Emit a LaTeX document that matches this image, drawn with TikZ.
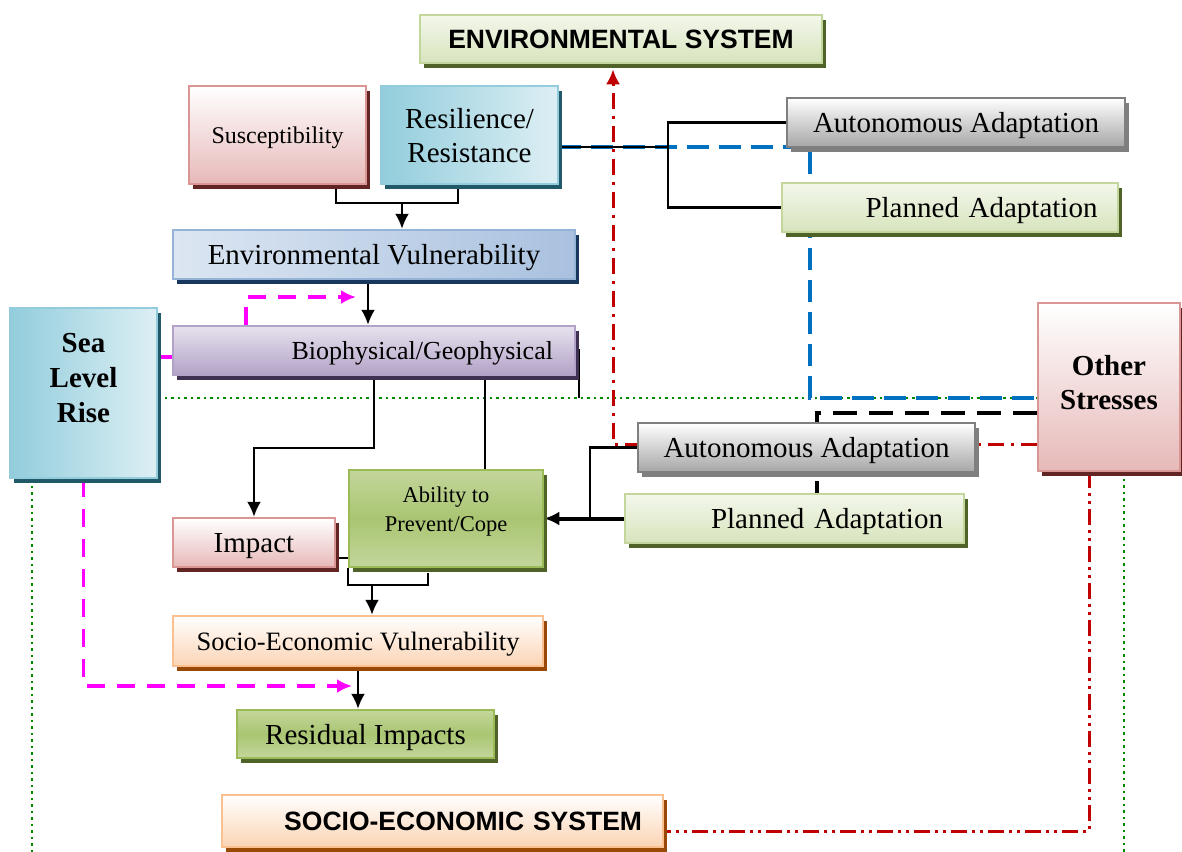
\documentclass[tikz,border=0pt]{standalone}
\usepackage{fontspec}
\setmainfont{Liberation Serif}
\setsansfont{Liberation Sans}
\usetikzlibrary{arrows.meta,shadows}

% box colours
\definecolor{grnline}{HTML}{C3D69B}
\definecolor{grnpale}{HTML}{F3F7EB}
\definecolor{grnlight}{HTML}{D7E4BD}
\definecolor{grnmid}{HTML}{9BBB59}
\definecolor{grnshadow}{HTML}{4F6228}
\definecolor{pinkline}{HTML}{D99694}
\definecolor{pinkfill}{HTML}{E6B9B8}
\definecolor{pinkshadow}{HTML}{632523}
\definecolor{tealline}{HTML}{93CDDD}
\definecolor{tealdark}{HTML}{92CDDC}
\definecolor{teallight}{HTML}{DDEFF4}
\definecolor{tealshadow}{HTML}{215968}
\definecolor{blueline}{HTML}{95B3D7}
\definecolor{bluelight}{HTML}{DCE6F2}
\definecolor{bluemid}{HTML}{A9C1DF}
\definecolor{blueshadow}{HTML}{17375E}
\definecolor{purpline}{HTML}{B3A2C7}
\definecolor{purplight}{HTML}{E7E2EE}
\definecolor{purpshadow}{HTML}{3F3151}
\definecolor{grayline}{HTML}{7F7F7F}
\definecolor{grayfill}{HTML}{A6A6A6}
\definecolor{orgline}{HTML}{FAC090}
\definecolor{orgfill}{HTML}{FBD4B4}
\definecolor{orgshadow}{HTML}{984807}
% line colours
\definecolor{resblue}{HTML}{0070C0}
\definecolor{fbred}{HTML}{C00000}
\definecolor{limgreen}{HTML}{008A00}
\definecolor{slrpink}{HTML}{FF00FF}

\pgfdeclarelayer{wires}
\pgfsetlayers{wires,main}

\tikzstyle{box}=[draw, line width=2.5pt, inner sep=0pt, align=center, text depth=0pt, font=\fontsize{29}{34}\selectfont]
\tikzstyle{box green}=[box, draw=grnline, top color=grnpale, bottom color=grnlight, general shadow={fill=grnshadow, shadow xshift=4pt, shadow yshift=-5pt}]
\tikzstyle{box leaf}=[box, draw=grnmid, top color=grnline, bottom color=grnline, middle color=grnmid!85, general shadow={fill=grnshadow, shadow xshift=4pt, shadow yshift=-5pt}]
\tikzstyle{box pink}=[box, draw=pinkline, top color=white, bottom color=pinkfill, general shadow={fill=pinkshadow, shadow xshift=4pt, shadow yshift=-5pt}]
\tikzstyle{box teal}=[box, draw=tealline, left color=tealdark, right color=teallight, general shadow={fill=tealshadow, shadow xshift=4pt, shadow yshift=-5pt}]
\tikzstyle{box blue}=[box, draw=blueline, left color=bluelight, right color=bluemid, general shadow={fill=blueshadow, shadow xshift=4pt, shadow yshift=-5pt}]
\tikzstyle{box purple}=[box, draw=purpline, top color=purplight, bottom color=purpline, general shadow={fill=purpshadow, shadow xshift=4pt, shadow yshift=-5pt}]
\tikzstyle{box gray}=[box, draw=grayline, top color=white, bottom color=grayfill, general shadow={fill=grayline, shadow xshift=4pt, shadow yshift=-5pt}]
\tikzstyle{box orange}=[box, draw=orgline, top color=white, bottom color=orgfill, general shadow={fill=orgshadow, shadow xshift=4pt, shadow yshift=-5pt}]
\tikzstyle{system}=[font=\sffamily\bfseries\fontsize{26.5}{30}\selectfont]
\tikzstyle{driver}=[font=\bfseries\fontsize{29}{35}\selectfont]

\tikzstyle{link}=[line width=2.2pt]
\tikzstyle{link thick}=[line width=4pt]
\tikzstyle{sea}=[slrpink, line width=3.5pt, dash pattern=on 18pt off 12pt]
\tikzstyle{resist}=[resblue, line width=3.5pt, dash pattern=on 22pt off 10pt]
\tikzstyle{stress}=[line width=4pt, dash pattern=on 24pt off 12pt]
\tikzstyle{limit}=[limgreen, line width=2.5pt, dash pattern=on 2.5pt off 4pt]
\tikzstyle{feedback}=[fbred, line width=3pt, dash pattern=on 16pt off 7pt on 3pt off 7pt]
\tikzstyle{feedback dots}=[fbred, line width=3pt, dash pattern=on 16pt off 5pt on 3pt off 5pt on 3pt off 5pt]

\begin{document}
\begin{tikzpicture}[x=1pt,y=-1pt,>={Latex[length=15pt,width=14pt]}]
    \useasboundingbox (0,0) rectangle (1182,851);

    % Systems
    \draw (621,39) node[box green, system, minimum width=402, minimum height=48] (envsys) {ENVIRONMENTAL SYSTEM};
    \draw (442.5,821) node[box orange, system, minimum width=441, minimum height=52, text width=399, align=right] (socsys) {SOCIO-ECONOMIC SYSTEM};

    % Environmental side
    \draw (277.5,135) node[box pink, minimum width=177, minimum height=98, font=\fontsize{24}{28}\selectfont] (suscept) {Susceptibility};
    \draw (469.5,135) node[box teal, minimum width=177, minimum height=98] (resil) {Resilience/\\Resistance};
    \draw (374,254.5) node[box blue, minimum width=402, minimum height=49] (envvul) {Environmental Vulnerability};
    \draw (374,350.5) node[box purple, minimum width=402, minimum height=49, text width=358, align=right, font=\fontsize{26}{30}\selectfont] (bio) {Biophysical/Geophysical};
    \draw (956,122.5) node[box gray, minimum width=338, minimum height=49] (autoA) {Autonomous Adaptation};
    \draw (950,207.5) node[box green, minimum width=336, minimum height=49, text width=295, align=right] (planA) {Planned Adaptation};

    % Drivers
    \draw (83.5,393) node[box teal, driver, minimum width=147, minimum height=170, text depth=30pt] (slr) {Sea\\Level\\Rise};
    \draw (1109,387) node[box pink, driver, minimum width=142, minimum height=168, text depth=9pt, font=\bfseries\fontsize{29}{34}\selectfont] (other) {Other\\Stresses};

    % Socio-economic side
    \draw (806.5,447.5) node[box gray, minimum width=337, minimum height=49] (autoB) {Autonomous Adaptation};
    \draw (794.5,518.5) node[box green, minimum width=339, minimum height=49, text width=297, align=right] (planB) {Planned Adaptation};
    \draw (446,518.5) node[box leaf, minimum width=194, minimum height=97, text depth=18pt, font=\fontsize{22.5}{29}\selectfont] (ability) {Ability to\\Prevent/Cope};
    \draw (254,542.5) node[box pink, minimum width=162, minimum height=49] (impact) {Impact};
    \draw (358,641) node[box orange, minimum width=370, minimum height=50, font=\fontsize{26.5}{30}\selectfont] (socvul) {Socio-Economic Vulnerability};
    \draw (365.5,734) node[box leaf, minimum width=257, minimum height=48] (resid) {Residual Impacts};

    \begin{pgfonlayer}{wires}
    % bend points
    \coordinate (sj) at (402,203);
    \coordinate (rj) at (668,147);
    \coordinate (bl) at (810,398);
    \coordinate (mt) at (246,297);
    \coordinate (mb) at (352,686);
    \coordinate (aj) at (372,584);
    \coordinate (ab) at ([xshift=39]ability.north);

    % Boundary between the two systems
    \draw[limit] (slr.east |- bl) -- (bl -| other.west);
    \draw[limit] ([xshift=-51.5]slr.south) -- ++(0,373);
    \draw[limit] ([xshift=15]other.south) -- ++(0,380);

    % Feedback to the systems
    \draw[feedback,->] ([yshift=-57]other.west) -| ([xshift=-8,yshift=-5]envsys.south);
    \draw[feedback dots] ([xshift=-20]other.south) |- ([yshift=-10]socsys.east);
    \draw[stress] ([yshift=-26]other.west) -| ([xshift=22.5]planB.north);
    \draw[resist] ([yshift=-12]resil.east) -| (bl) -- (bl -| other.west);

    % Sea level rise
    \draw[sea,->] ([yshift=36]slr.east) -| (mt) -- ++(110,0);
    \draw[sea,->] (slr.south) |- (mb);

    % Environmental chain
    \draw[link] ([xshift=58.5]suscept.south) |- (sj) -| ([xshift=-11.5]resil.south);
    \draw[link,->] (sj) -- (sj |- envvul.north);
    \draw[link] ([yshift=-12]resil.east) -- (rj);
    \draw[link] (autoA.west) -| (rj) |- (planA.west);
    \draw[link,->] ([xshift=-6]envvul.south) -- ([xshift=-6]bio.north);
    \draw[link] (bio.east) -- ++(3,0) -- ++(0,47);

    % Socio-economic chain
    \draw[link,->] (bio.south) -- ++(0,72) -| (impact.north);
    \draw[link] (ab) -- (ab |- bio.south);
    \draw[link] ([yshift=-15.5]impact.east) -- ([yshift=-15.5]impact.east -| ability.west);
    \draw[link] (autoB.west) -| (590,518.5);
    \draw[link thick,->] (planB.west) -- (ability.east);
    \draw[link] (ability.south west) -- ++(0,17) -| (428,573);
    \draw[link,->] (aj) -- (aj |- socvul.north);
    \draw[link,->] (socvul.south) -- (socvul.south |- resid.north);
    \end{pgfonlayer}

\end{tikzpicture}
\end{document}
